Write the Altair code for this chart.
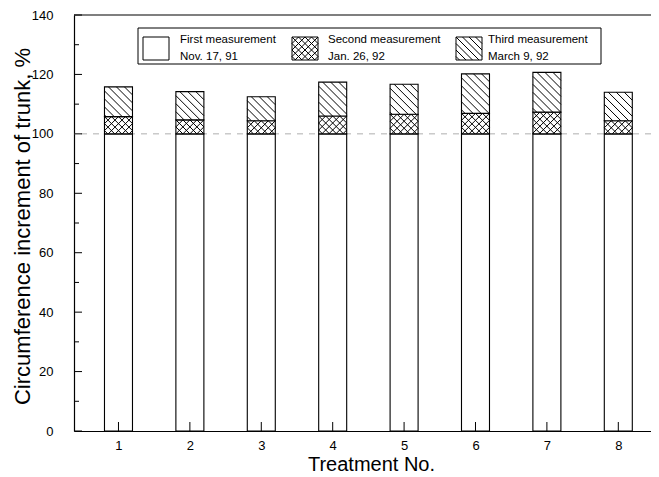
import altair as alt
import pandas as pd

# ---------------- data ----------------
treatments = [1, 2, 3, 4, 5, 6, 7, 8]
first_meas = [100, 100, 100, 100, 100, 100, 100, 100]          # Nov. 17, 91
second_meas = [105.8, 104.7, 104.4, 106.0, 106.6, 106.9, 107.3, 104.4]  # Jan. 26, 92
third_meas = [115.8, 114.2, 112.5, 117.4, 116.7, 120.2, 120.7, 114.0]   # March 9, 92

y_ticks = [0, 20, 40, 60, 80, 100, 120, 140]
y_minor = [10, 30, 50, 70, 90, 110, 130]

legend_labels_1 = ["First measurement", "Second measurement", "Third measurement"]
legend_labels_2 = ["Nov. 17, 91", "Jan. 26, 92", "March 9, 92"]

# ---------------- geometry ----------------
X_MIN, X_MAX = 0.377, 8.458
Y_MAX = 140.0
W, H = 577, 416
PX = W / (X_MAX - X_MIN)   # px per treatment unit
PY = H / Y_MAX             # px per %
BAR_PX = 28
HW = BAR_PX / 2 / PX

FONT = "Liberation Sans"

xs = alt.Scale(domain=[X_MIN, X_MAX], nice=False, zero=False)
ys = alt.Scale(domain=[0, Y_MAX], nice=False, zero=True)

AX_X = alt.Axis(values=treatments, format="d", ticks=False, tickSize=0, grid=False,
                domainColor="black", domainWidth=1.2,
                labelFont=FONT, labelFontSize=13, labelColor="black", labelPadding=8,
                title="Treatment No.", titleFont=FONT, titleFontSize=20,
                titleFontWeight="normal", titleColor="black",
                titleX=297, titleY=39, titleBaseline="alphabetic", titleAlign="center")
AX_Y = alt.Axis(values=y_ticks, ticks=False, tickSize=0, grid=False,
                domainColor="black", domainWidth=1.2,
                labelFont=FONT, labelFontSize=13, labelColor="black", labelPadding=21,
                title="Circumference increment of trunk, %", titleFont=FONT,
                titleFontSize=22, titleFontWeight="normal", titleColor="black",
                titleX=-45, titleY=211, titleBaseline="alphabetic", titleAlign="center",
                titleAngle=270)


def px_to_x(p):
    return X_MIN + p / PX


def py_to_y(p):
    return Y_MAX - p / PY


# bars (three stacked segments)
seg_rows = []
for t, a, b, c in zip(treatments, first_meas, second_meas, third_meas):
    seg_rows.append(dict(t=t, xl=t - HW, xr=t + HW, lo=0, hi=a, seg="first"))
    seg_rows.append(dict(t=t, xl=t - HW, xr=t + HW, lo=a, hi=b, seg="second"))
    seg_rows.append(dict(t=t, xl=t - HW, xr=t + HW, lo=b, hi=c, seg="third"))
seg_df = pd.DataFrame(seg_rows)


def hatch(w, h, spacing, kind):
    """Segments in local pixel space (origin top-left, y down)."""
    out = []
    if kind in ("back", "cross"):   # '\' lines: py = px + k
        k = -w
        while k <= h:
            ps, pe = max(0, -k), min(w, h - k)
            if pe - ps > 0.4:
                out.append((ps, ps + k, pe, pe + k))
            k += spacing
    if kind == "cross":             # '/' lines: py = -px + k
        k = 0
        while k <= w + h:
            ps, pe = max(0, k - h), min(w, k)
            if pe - ps > 0.4:
                out.append((ps, k - ps, pe, k - pe))
            k += spacing
    return out


hatch_rows = []
for r in seg_rows:
    if r["seg"] == "first":
        continue
    kind = "cross" if r["seg"] == "second" else "back"
    sp = 7 if kind == "cross" else 8
    hpx = (r["hi"] - r["lo"]) * PY
    for (x1, y1, x2, y2) in hatch(BAR_PX, hpx, sp, kind):
        hatch_rows.append(dict(x=r["xl"] + x1 / PX, y=r["hi"] - y1 / PY,
                               x2=r["xl"] + x2 / PX, y2=r["hi"] - y2 / PY))

# legend swatch hatches (pixel layout -> data units)
sw_x = [69, 218, 382]
sw_kinds = ["none", "cross", "back"]
txt_x = [106, 254, 414]
SW_W, SW_Y0, SW_Y1 = 26, 22, 45
for x0, kind in zip(sw_x, sw_kinds):
    if kind == "none":
        continue
    for (a, b, c, d) in hatch(SW_W, SW_Y1 - SW_Y0, 6.5, kind):
        hatch_rows.append(dict(x=px_to_x(x0 + a), y=py_to_y(SW_Y0 + b),
                               x2=px_to_x(x0 + c), y2=py_to_y(SW_Y0 + d)))
hatch_df = pd.DataFrame(hatch_rows)

# inward tick marks
tick_rows = []
for v in y_ticks:
    tick_rows.append(dict(x=X_MIN, x2=X_MIN + 8 / PX, y=v, y2=v))
for v in y_minor:
    tick_rows.append(dict(x=X_MIN, x2=X_MIN + 5 / PX, y=v, y2=v))
for t in treatments:
    tick_rows.append(dict(x=t, x2=t, y=0, y2=9 / PY))
tick_df = pd.DataFrame(tick_rows)

# legend box + swatches
box_rows = [dict(x=px_to_x(64), x2=px_to_x(527), y=py_to_y(13), y2=py_to_y(49))]
for x in sw_x:
    box_rows.append(dict(x=px_to_x(x), x2=px_to_x(x + SW_W), y=py_to_y(SW_Y0), y2=py_to_y(SW_Y1)))
box_df = pd.DataFrame(box_rows)

leg_txt_df = pd.DataFrame(
    [dict(x=px_to_x(x), y=py_to_y(25), label=l) for x, l in zip(txt_x, legend_labels_1)]
    + [dict(x=px_to_x(x), y=py_to_y(42), label=l) for x, l in zip(txt_x, legend_labels_2)]
)

# ---------------- layers ----------------
bars = alt.Chart(seg_df).mark_rect(fill="white", stroke="black", strokeWidth=1.1).encode(
    x=alt.X("xl:Q", scale=xs, axis=AX_X), x2="xr:Q",
    y=alt.Y("lo:Q", scale=ys, axis=AX_Y), y2="hi:Q",
)

ref100 = alt.Chart(pd.DataFrame({"v": [100]})).mark_rule(
    color="#999", strokeWidth=0.8, strokeDash=[6, 6]
).encode(y=alt.Y("v:Q", scale=ys, axis=AX_Y))

top_line = alt.Chart(pd.DataFrame({"v": [Y_MAX]})).mark_rule(
    color="black", strokeWidth=1.2
).encode(y=alt.Y("v:Q", scale=ys, axis=AX_Y))

hatch_layer = alt.Chart(hatch_df).mark_rule(color="black", strokeWidth=1.0).encode(
    x=alt.X("x:Q", scale=xs, axis=AX_X), x2="x2:Q",
    y=alt.Y("y:Q", scale=ys, axis=AX_Y), y2="y2:Q",
)

tick_layer = alt.Chart(tick_df).mark_rule(color="black", strokeWidth=1.0).encode(
    x=alt.X("x:Q", scale=xs, axis=AX_X), x2="x2:Q",
    y=alt.Y("y:Q", scale=ys, axis=AX_Y), y2="y2:Q",
)

boxes = alt.Chart(box_df).mark_rect(fill="white", stroke="black", strokeWidth=1.0).encode(
    x=alt.X("x:Q", scale=xs, axis=AX_X), x2="x2:Q",
    y=alt.Y("y:Q", scale=ys, axis=AX_Y), y2="y2:Q",
)

leg_txt = alt.Chart(leg_txt_df).mark_text(
    align="left", baseline="middle", font=FONT, fontSize=11.5, color="black"
).encode(
    x=alt.X("x:Q", scale=xs, axis=AX_X),
    y=alt.Y("y:Q", scale=ys, axis=AX_Y),
    text="label:N",
)

chart = alt.layer(
    ref100, bars, boxes, hatch_layer, tick_layer, top_line, leg_txt
).properties(
    width=W, height=H,
    autosize=alt.AutoSizeParams(type="none"),
    padding={"left": 66, "top": 7, "right": 0, "bottom": 46},
    background="white",
).configure_view(stroke=None)

chart.save("out.html", embed_options={"renderer": "svg", "actions": False})
